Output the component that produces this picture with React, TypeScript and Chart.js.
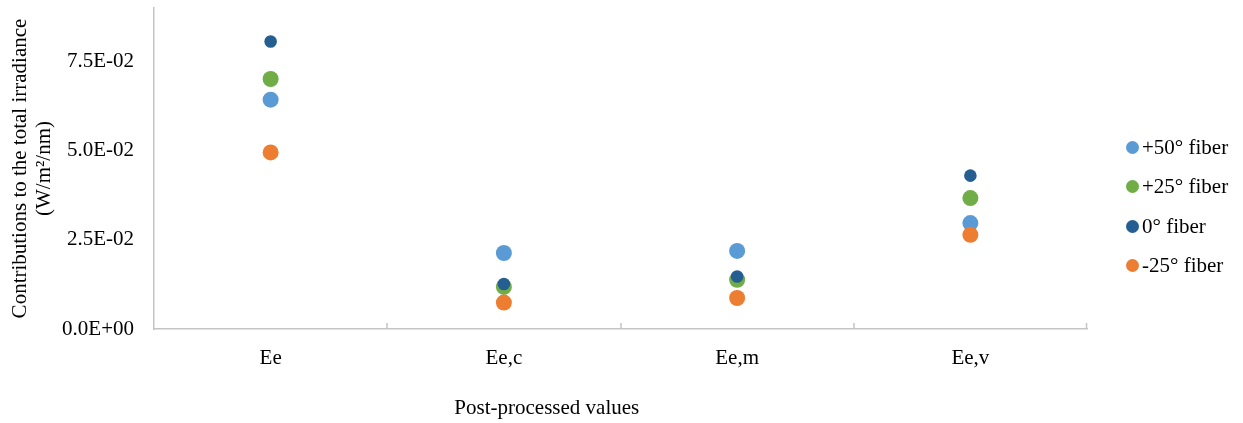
import React, { useEffect, useRef } from 'react';
import { Chart, registerables } from 'chart.js';

Chart.register(...registerables);

const categories = ['Ee', 'Ee,c', 'Ee,m', 'Ee,v'];
const seriesNames = ['+50° fiber', '+25° fiber', '0° fiber', '-25° fiber'];
const plus50 = [0.0643, 0.0213, 0.0219, 0.0297];
const plus25 = [0.0701, 0.0118, 0.0138, 0.0367];
const zero = [0.0806, 0.0126, 0.0147, 0.043];
const minus25 = [0.0495, 0.0074, 0.0087, 0.0264];
const seriesColors = ['#5B9BD5', '#70AD47', '#255E91', '#ED7D31'];
const seriesRadius = [8, 8, 6.3, 8];
const yTicks = [0, 0.025, 0.05, 0.075];
const yMax = 0.09;
const yTitle = ['Contributions to the total irradiance', '(W/m²/nm)'];
const xTitle = 'Post-processed values';

const FONT = '"Liberation Serif", "Times New Roman", serif';
const FS = 21;
const AXIS = '#c4c4c4';

function fmt(v: number): string {
  if (v === 0) return '0.0E+00';
  const exp = Math.floor(Math.log10(Math.abs(v)) + 1e-9);
  const mant = v / Math.pow(10, exp);
  const sign = exp < 0 ? '-' : '+';
  return mant.toFixed(1) + 'E' + sign + String(Math.abs(exp)).padStart(2, '0');
}

const extras = {
  id: 'extras',
  afterDraw(chart: any) {
    const { ctx, chartArea } = chart;
    const xs = chart.scales.x;
    ctx.save();
    ctx.strokeStyle = AXIS;
    ctx.lineWidth = 1.5;
    for (let i = 1; i <= categories.length; i++) {
      const xx = i < categories.length
        ? Math.round((xs.getPixelForValue(i - 1) + xs.getPixelForValue(i)) / 2)
        : Math.round(xs.right) - 0.5;
      ctx.beginPath();
      ctx.moveTo(xx, chartArea.bottom - 6);
      ctx.lineTo(xx, chartArea.bottom);
      ctx.stroke();
    }
    ctx.fillStyle = '#000';
    ctx.font = FS + 'px ' + FONT;
    ctx.textAlign = 'center';
    ctx.textBaseline = 'middle';
    ctx.fillText(xTitle, chartArea.left + 0.421 * (chartArea.right - chartArea.left), chartArea.bottom + 79);
    ctx.restore();
  },
};

export default function App() {
  const ref = useRef<HTMLCanvasElement | null>(null);
  useEffect(() => {
    if (!ref.current) return;
    const values = [plus50, plus25, zero, minus25];
    const order = [3, 2, 1, 0];
    const chart = new Chart(ref.current, {
      type: 'line',
      data: {
        labels: categories,
        datasets: order.map((i) => ({
          label: seriesNames[i],
          data: values[i],
          showLine: false,
          pointRadius: seriesRadius[i],
          pointBorderWidth: 0,
          pointBackgroundColor: seriesColors[i],
          pointBorderColor: seriesColors[i],
          backgroundColor: seriesColors[i],
          borderColor: seriesColors[i],
        })),
      },
      options: {
        animation: false,
        responsive: false,
        layout: { padding: { top: 8, left: 0, right: 1243 - 1087, bottom: 0 } },
        plugins: { legend: { display: false }, tooltip: { enabled: false } },
        scales: {
          x: {
            type: 'category',
            offset: true,
            grid: { display: false, drawTicks: false },
            border: { display: true, color: AXIS, width: 1.5 },
            ticks: { color: '#000', font: { family: FONT, size: FS }, padding: 17 },
            afterFit: (s: any) => { s.height = 94; s.paddingLeft = 0; s.paddingRight = 0; },
          },
          y: {
            min: 0,
            max: yMax,
            afterBuildTicks: (s: any) => { s.ticks = yTicks.map((v) => ({ value: v })); },
            grid: { display: false, drawTicks: false },
            border: { display: true, color: AXIS, width: 1.5 },
            ticks: { color: '#000', font: { family: FONT, size: FS }, padding: 20, callback: (v: any) => fmt(Number(v)) },
            title: { display: true, text: yTitle, color: '#000', font: { family: FONT, size: FS, lineHeight: 1.15 }, padding: { top: 8, bottom: 0 } },
            afterFit: (s: any) => { s.width = 154; s.paddingTop = 0; s.paddingBottom = 0; },
          },
        },
      },
      plugins: [extras],
    } as any);
    return () => chart.destroy();
  }, []);

  return (
    <div style={{ position: 'absolute', left: 0, top: 0, width: 1243, height: 423, background: '#fff' }}>
      <canvas ref={ref} width={1243} height={423} style={{ display: 'block' }} />
      <div style={{ position: 'absolute', left: 1126, top: 128, fontFamily: FONT, fontSize: FS, color: '#000' }}>
        {seriesNames.map((n, i) => (
          <div key={n} style={{ display: 'flex', alignItems: 'center', height: 39.3, whiteSpace: 'nowrap' }}>
            <span style={{ display: 'inline-block', width: 13, height: 13, borderRadius: '50%', background: seriesColors[i], marginRight: 3 }} />
            <span>{n}</span>
          </div>
        ))}
      </div>
    </div>
  );
}
